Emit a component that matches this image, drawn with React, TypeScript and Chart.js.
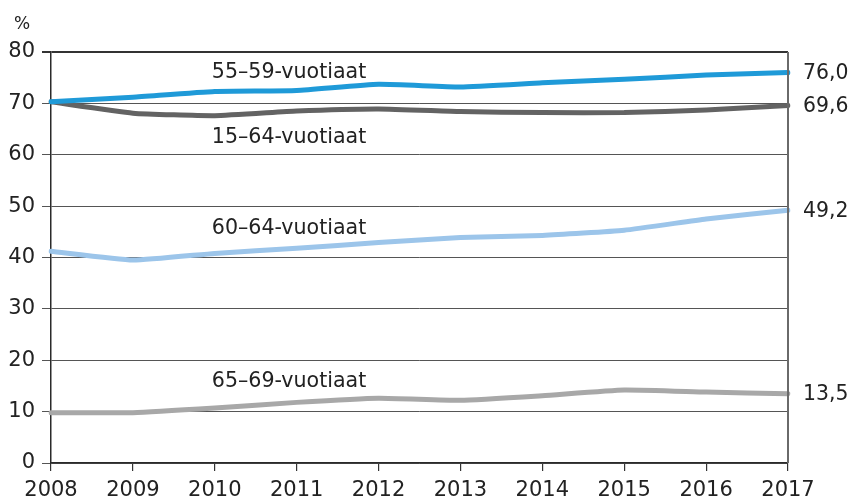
import React, { useEffect, useRef } from "react";
import { Chart, registerables } from "chart.js";

Chart.register(...registerables);

const years = ["2008", "2009", "2010", "2011", "2012", "2013", "2014", "2015", "2016", "2017"];
const age55_59 = [70.3, 71.2, 72.3, 72.5, 73.7, 73.2, 74.0, 74.7, 75.5, 76.0];
const age15_64 = [70.3, 68.1, 67.6, 68.5, 68.9, 68.4, 68.2, 68.2, 68.7, 69.6];
const age60_64 = [41.2, 39.5, 40.8, 41.8, 42.9, 43.9, 44.3, 45.3, 47.5, 49.2];
const age65_69 = [9.8, 9.8, 10.7, 11.8, 12.6, 12.2, 13.1, 14.2, 13.8, 13.5];
const seriesNames = ["55–59-vuotiaat", "15–64-vuotiaat", "60–64-vuotiaat", "65–69-vuotiaat"];
const endLabels = ["76,0", "69,6", "49,2", "13,5"];
// label anchors in data units: [category index, value at text baseline]
const nameAnchorIndex = [2, 2, 2, 2];
const nameAnchorValue = [75.0, 62.2, 44.5, 14.8];
const yTicks = [0, 10, 20, 30, 40, 50, 60, 70, 80];

const FONT = "'DejaVu Sans', sans-serif";
const TEXT = "#222222";

const labelsPlugin = {
  id: "labelsPlugin",
  afterDatasetsDraw(chart: any) {
    const { ctx, chartArea, scales } = chart;
    const xs = scales.x;
    const ys = scales.y;
    ctx.save();
    // right border
    ctx.strokeStyle = "#6a6a6a";
    ctx.lineWidth = 2;
    ctx.beginPath();
    ctx.moveTo(chartArea.right, chartArea.top);
    ctx.lineTo(chartArea.right, chartArea.bottom);
    ctx.stroke();

    ctx.fillStyle = TEXT;
    ctx.font = `20.6px ${FONT}`;
    // series names
    ctx.textAlign = "left";
    ctx.textBaseline = "alphabetic";
    seriesNames.forEach((name, i) => {
      const x = xs.getPixelForValue(nameAnchorIndex[i]) - 3;
      const y = ys.getPixelForValue(nameAnchorValue[i]);
      ctx.fillText(name, x, y);
    });
    // end labels
    ctx.font = `20.4px ${FONT}`;
    ctx.textBaseline = "middle";
    const lastVals = [age55_59, age15_64, age60_64, age65_69].map((a) => a[a.length - 1]);
    endLabels.forEach((t, i) => {
      const x = xs.getPixelForValue(years.length - 1) + 15;
      const y = ys.getPixelForValue(lastVals[i]);
      ctx.fillText(t, x, y + 1);
    });
    // unit
    ctx.font = `17px ${FONT}`;
    ctx.textBaseline = "middle";
    ctx.fillText("%", 14, 25);
    ctx.restore();
  },
};

export default function App() {
  const ref = useRef<HTMLCanvasElement | null>(null);
  useEffect(() => {
    if (!ref.current) return;
    const mk = (label: string, data: number[], color: string) => ({
      label,
      data,
      borderColor: color,
      backgroundColor: color,
      borderWidth: 5,
      pointRadius: 0,
      tension: 0.15,
      borderCapStyle: "round" as const,
      borderJoinStyle: "round" as const,
      fill: false,
    });
    const chart = new Chart(ref.current, {
      type: "line",
      data: {
        labels: years,
        datasets: [
          mk(seriesNames[0], age55_59, "#1f9ad8"),
          mk(seriesNames[1], age15_64, "#636363"),
          mk(seriesNames[2], age60_64, "#9cc5ea"),
          mk(seriesNames[3], age65_69, "#a8a8a8"),
        ],
      },
      options: {
        animation: false,
        responsive: false,
        devicePixelRatio: 1,
        layout: { padding: { top: 52, right: 61, left: 0, bottom: 0 } },
        plugins: { legend: { display: false }, tooltip: { enabled: false } },
        scales: {
          x: {
            type: "category",
            offset: false,
            afterFit(scale: any) {
              scale.height = 40;
            },
            grid: {
              drawOnChartArea: false,
              drawTicks: true,
              tickLength: 8,
              color: "#333333",
              lineWidth: 1.2,
            },
            border: { display: true, color: "#2a2a2a", width: 1.5 },
            ticks: {
              color: TEXT,
              font: { family: FONT, size: 21 },
              padding: 7,
              maxRotation: 0,
              autoSkip: false,
            },
          },
          y: {
            min: 0,
            max: 80,
            afterFit(scale: any) {
              scale.width = 51;
            },
            afterBuildTicks(scale: any) {
              scale.ticks = yTicks.map((v) => ({ value: v }));
            },
            grid: {
              drawTicks: true,
              tickLength: 9,
              color: (c: any) => (c.tick && c.tick.value === 80 ? "#333333" : "#555555"),
              lineWidth: (c: any) => (c.tick && c.tick.value === 80 ? 2 : 1),
            },
            border: { display: true, color: "#2a2a2a", width: 1.5 },
            ticks: {
              color: TEXT,
              font: { family: FONT, size: 21 },
              padding: 7,
            },
          },
        },
      },
      plugins: [labelsPlugin],
    });
    return () => chart.destroy();
  }, []);
  return (
    <div style={{ position: "absolute", left: 0, top: 0, width: 849, height: 503, background: "#fff" }}>
      <canvas ref={ref} width={849} height={503} style={{ display: "block" }} />
    </div>
  );
}
